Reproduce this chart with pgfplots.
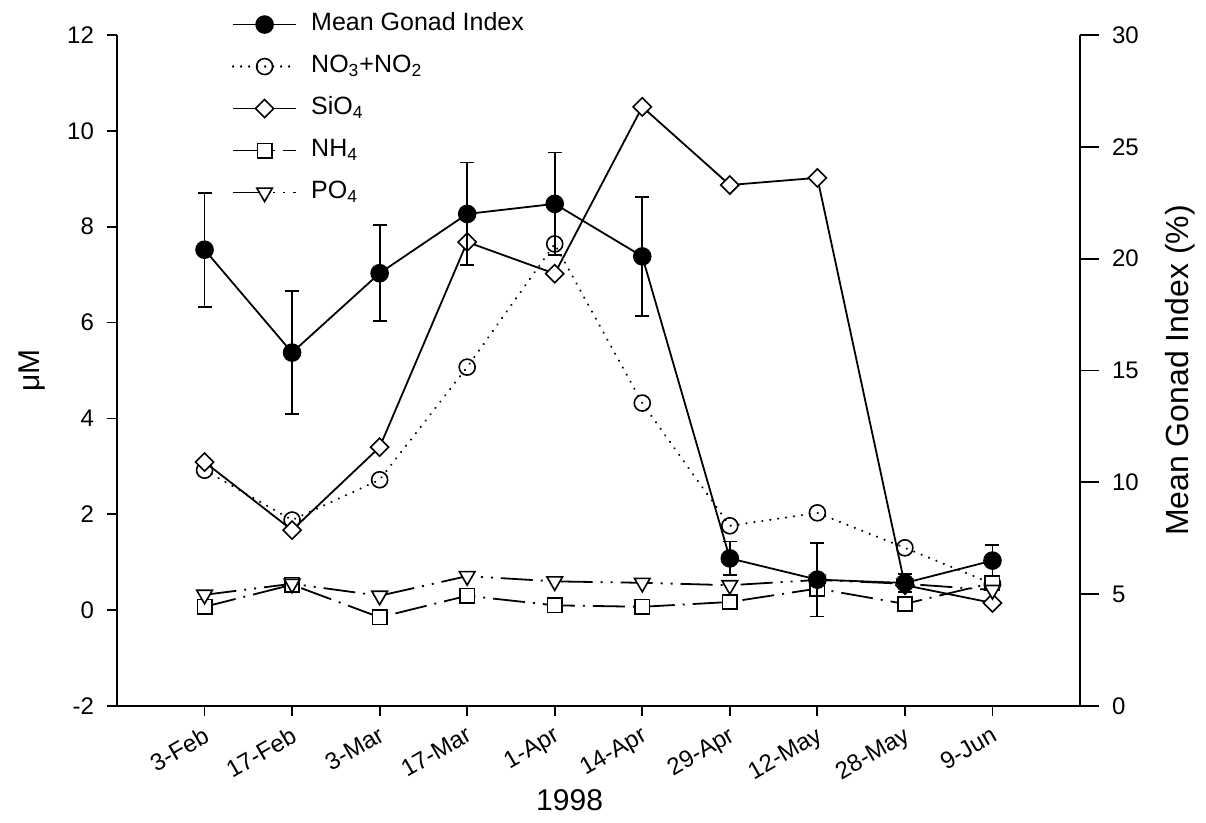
\documentclass[border=0pt]{standalone}
\usepackage{fontspec}
\setmainfont{Liberation Sans}
\usepackage{pgfplots}
\pgfplotsset{compat=1.18}

\pgfplotsset{
  base/.style={
    scale only axis, width=481.5pt, height=335.5pt,
    xmin=-1, xmax=10,
    axis line style={line width=0.9pt},
    tick style={line width=0.9pt, black},
    /pgf/number format/assume math mode=true,
    tick label style={font=\fontsize{12}{14}\selectfont},
  },
  nolinearrows/.style={
    x axis line style={-}, y axis line style={-},
    tick align=outside,
  },
}

\begin{document}
\begin{tikzpicture}
% nutrients, left axis
\begin{axis}[base,
  ymin=-2, ymax=12,
  axis x line=bottom, axis y line=left, nolinearrows,
  major tick length=5pt,
  xtick={0,...,9},
  xticklabels={3-Feb,17-Feb,3-Mar,17-Mar,1-Apr,14-Apr,29-Apr,12-May,28-May,9-Jun},
  x tick label style={rotate=30, anchor=north east},
  ytick={-2,0,...,12},
  y tick label style={xshift=-3pt},
  ylabel={μM},
  ylabel style={font=\fontsize{15}{18}\selectfont, at={(axis description cs:-0.088,0.5)}, anchor=center},
  xlabel={1998},
  xlabel style={font=\fontsize{15}{18}\selectfont, at={(axis description cs:0.47,-0.14)}, anchor=center},
]
% NO3+NO2
\addplot[black, line width=1.1pt, line cap=round, dash pattern=on 0.1pt off 3.9pt,
  mark=o, mark size=4pt, mark options={solid, fill=white, line width=0.8pt}] coordinates {
  (0,2.92) (1,1.88) (2,2.72) (3,5.07) (4,7.64) (5,4.32) (6,1.76) (7,2.03) (8,1.30) (9,0.55)};
% SiO4
\addplot[black, line width=0.9pt,
  mark=square*, mark size=3.2pt, mark options={solid, fill=white, rotate=45, line width=0.8pt}] coordinates {
  (0,3.09) (1,1.67) (2,3.40) (3,7.68) (4,7.02) (5,10.50) (6,8.87) (7,9.02) (8,0.52) (9,0.15)};
% NH4
\addplot[black, line width=0.9pt, dash pattern=on 16pt off 4pt on 1pt off 4pt,
  mark=square*, mark size=3.6pt, mark options={solid, fill=white, line width=0.8pt}] coordinates {
  (0,0.07) (1,0.53) (2,-0.15) (3,0.30) (4,0.10) (5,0.07) (6,0.17) (7,0.45) (8,0.13) (9,0.57)};
% PO4
\addplot[black, line width=0.9pt, dash pattern=on 16pt off 4pt on 1pt off 4pt on 1pt off 4pt,
  mark=triangle*, mark size=4.5pt, mark options={solid, fill=white, rotate=180, line width=0.8pt}] coordinates {
  (0,0.32) (1,0.55) (2,0.30) (3,0.71) (4,0.60) (5,0.57) (6,0.52) (7,0.63) (8,0.55) (9,0.42)};
\end{axis}

% gonad index, right axis
\begin{axis}[base, name=ax,
  ymin=0, ymax=30,
  axis x line=none, axis y line=right, nolinearrows,
  major tick length=9.5pt,
  ytick={0,5,...,30},
  y tick label style={xshift=3pt},
  ylabel={Mean Gonad Index (\%)},
  ylabel style={font=\fontsize{16}{19}\selectfont, at={(axis description cs:1.104,0.5)}, anchor=center},
  legend style={draw=none, fill=none, inner sep=0pt,
    at={(axis description cs:0.119,1.04)}, anchor=north west,
    font=\fontsize{12.5}{15}\selectfont, row sep=5pt,
    nodes={text height=9pt, text depth=3pt},
    /tikz/column 1/.style={column sep=5pt}},
  legend cell align=left,
  legend image code/.code={\draw[mark repeat=2, mark phase=2, #1] plot coordinates {(0pt,0pt) (15.75pt,0pt) (31.5pt,0pt)};},
]
\addplot[black, line width=0.9pt, mark=*, mark size=4.2pt, mark options={solid},
  error bars/.cd, y dir=both, y explicit, error mark=-,
  error mark options={rotate=90, mark size=3.5pt, line width=0.9pt, black},
  error bar style={line width=0.9pt}]
  coordinates {
  (0,20.40) +- (0,2.55)
  (1,15.80) +- (0,2.75)
  (2,19.35) +- (0,2.15)
  (3,22.00) +- (0,2.30)
  (4,22.45) +- (0,2.30)
  (5,20.10) +- (0,2.65)
  (6,6.60)  +- (0,0.75)
  (7,5.65)  +- (0,1.65)
  (8,5.50)  +- (0,0.40)
  (9,6.50)  +- (0,0.70)};
\addlegendentry{Mean Gonad Index}
\addlegendimage{black, line width=1.1pt, line cap=round, dash pattern=on 0.1pt off 3.9pt,
  mark=o, mark size=4pt, mark options={solid, fill=white, line width=0.8pt}}
\addlegendentry{NO\textsubscript{3}+NO\textsubscript{2}}
\addlegendimage{black, line width=0.9pt,
  mark=square*, mark size=3.2pt, mark options={solid, fill=white, rotate=45, line width=0.8pt}}
\addlegendentry{SiO\textsubscript{4}}
\addlegendimage{black, line width=0.9pt, dash pattern=on 16pt off 4pt on 1pt off 4pt,
  mark=square*, mark size=3.6pt, mark options={solid, fill=white, line width=0.8pt}}
\addlegendentry{NH\textsubscript{4}}
\addlegendimage{black, line width=0.9pt, dash pattern=on 16pt off 4pt on 1pt off 4pt on 1pt off 4pt,
  mark=triangle*, mark size=4.5pt, mark options={solid, fill=white, rotate=180, line width=0.8pt}}
\addlegendentry{PO\textsubscript{4}}
\end{axis}
\pgfresetboundingbox
\path[use as bounding box] ([shift={(-58.5pt,-58.5pt)}]ax.south west) rectangle ([shift={(63pt,17.5pt)}]ax.north east);
\end{tikzpicture}
\end{document}
